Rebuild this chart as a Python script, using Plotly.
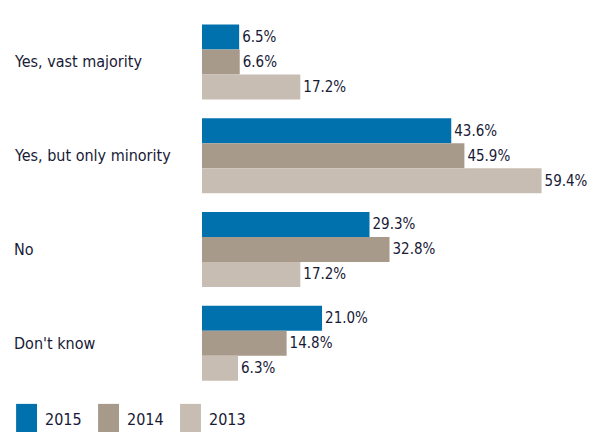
import plotly.graph_objects as go

categories = ["Yes, vast majority", "Yes, but only minority", "No", "Don't know"]
series_names = ["2015", "2014", "2013"]
values_2015 = [6.5, 43.6, 29.3, 21.0]
values_2014 = [6.6, 45.9, 32.8, 14.8]
values_2013 = [17.2, 59.4, 17.2, 6.3]
colors = ["#0071ad", "#a89a8b", "#c7bdb3"]

font_fam = "Liberation Sans Narrow, DejaVu Sans Condensed, Arial Narrow, sans-serif"
text_col = "#181a36"

fig = go.Figure()
for name, vals, col in zip(series_names, [values_2015, values_2014, values_2013], colors):
    fig.add_trace(go.Bar(
        y=categories, x=vals, name=name, orientation="h",
        marker=dict(color=col, line=dict(width=0)),
        text=[f"{v:.1f}%" for v in vals], textposition="outside",
        textfont=dict(family=font_fam, size=15, color=text_col),
        cliponaxis=False, hoverinfo="skip",
    ))

for cat in categories:
    fig.add_annotation(x=-0.555, y=cat, xref="paper", yref="y", text=cat,
                       showarrow=False, xanchor="left",
                       font=dict(family=font_fam, size=16, color=text_col))

# custom legend (tall swatches as in the reference)
for i, (name, col) in enumerate(zip(series_names, colors)):
    x0 = -0.542 + i * 0.239
    fig.add_shape(type="rect", xref="paper", yref="paper",
                  x0=x0, x1=x0 + 0.061, y0=-0.112, y1=-0.037,
                  fillcolor=col, line=dict(width=0))
    fig.add_annotation(x=x0 + 0.078, y=-0.078, xref="paper", yref="paper",
                       text=name, showarrow=False, xanchor="left", yanchor="middle",
                       font=dict(family=font_fam, size=16, color=text_col))

fig.update_layout(
    width=592, height=425,
    margin=dict(l=194, r=55, t=7, b=43, autoexpand=False),
    barmode="group", bargap=0.2, bargroupgap=0,
    plot_bgcolor="white", paper_bgcolor="white",
    xaxis=dict(range=[0, 60], visible=False),
    yaxis=dict(autorange="reversed", showticklabels=False, showgrid=False,
               zeroline=False, showline=False),
    showlegend=False,
)

fig.write_html("out.html")
